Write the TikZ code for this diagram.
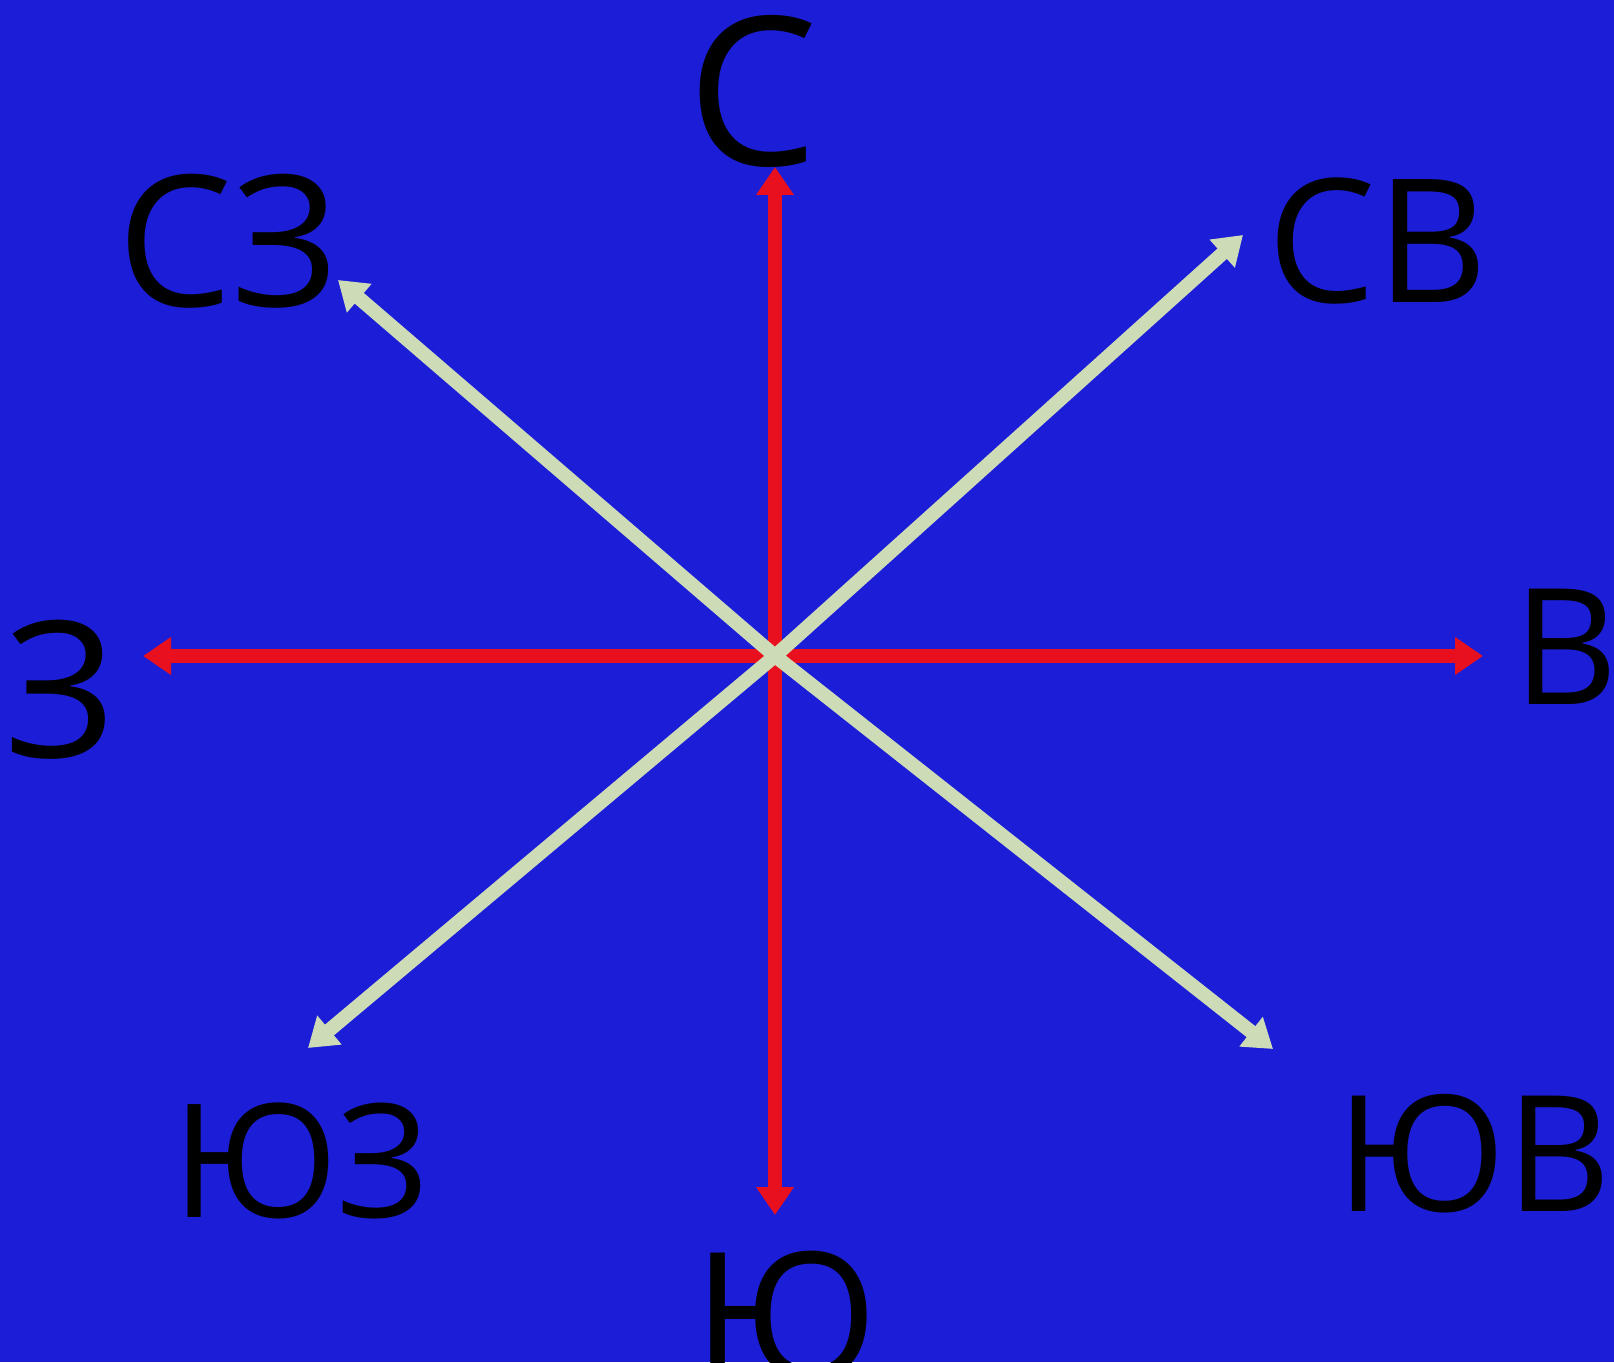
\documentclass[tikz,border=0pt]{standalone}
\usepackage{fontspec}
\setmainfont{Open Sans}
\usetikzlibrary{arrows.meta}
\definecolor{skyblue}{RGB}{28,30,215}
\definecolor{axisred}{RGB}{232,16,30}
\definecolor{diagsage}{RGB}{205,220,182}

\begin{document}
\begin{tikzpicture}[
    ns/.style={-{Triangle[length=0.28cm, width=0.36cm]}, line width=0.14cm, axisred},
    dg/.style={-{Triangle[length=0.28cm, width=0.36cm]}, line width=0.14cm, diagsage},
    lbl/.style={inner sep=0pt, text=black}]
\fill[skyblue] (0,0) rectangle (16.14,13.62);
\useasboundingbox (0,0) rectangle (16.14,13.62);
\clip (0,0) rectangle (16.14,13.62);
% centre and arrow tips
\coordinate (o) at (7.75,7.06);
\coordinate (n) at (7.75,11.95);
\coordinate (s) at (7.75,1.47);
\coordinate (w) at (1.43,7.06);
\coordinate (e) at (14.83,7.06);
\coordinate (nw) at (3.38,10.82);
\coordinate (ne) at (12.43,11.27);
\coordinate (sw) at (3.08,3.14);
\coordinate (se) at (12.73,3.13);
\draw[ns] (o) -- (n);
\draw[ns] (o) -- (s);
\draw[ns] (o) -- (w);
\draw[ns] (o) -- (e);
\draw[dg] (o) -- (nw);
\draw[dg] (o) -- (ne);
\draw[dg] (o) -- (sw);
\draw[dg] (o) -- (se);
% labels
\node[lbl, font=\fontsize{59}{59}\selectfont] (ln) at (7.53,12.71) {С};
\node[lbl, font=\fontsize{52}{52}\selectfont] (lnw) at (2.28,11.21) {СЗ};
\node[lbl, font=\fontsize{49}{49}\selectfont] (lne) at (13.78,11.21) {СВ};
\node[lbl, font=\fontsize{46}{46}\selectfont] (le) at (15.66,7.15) {В};
\node[lbl, font=\fontsize{54}{54}\selectfont] (lw) at (0.61,6.72) {З};
\node[lbl, font=\fontsize{45}{45}\selectfont] (lsw) at (3.01,2.01) {ЮЗ};
\node[lbl, font=\fontsize{46}{46}\selectfont] (lse) at (14.74,2.08) {ЮВ};
\node[lbl, font=\fontsize{50}{50}\selectfont] (ls) at (7.86,0.46) {Ю};
\end{tikzpicture}
\end{document}
